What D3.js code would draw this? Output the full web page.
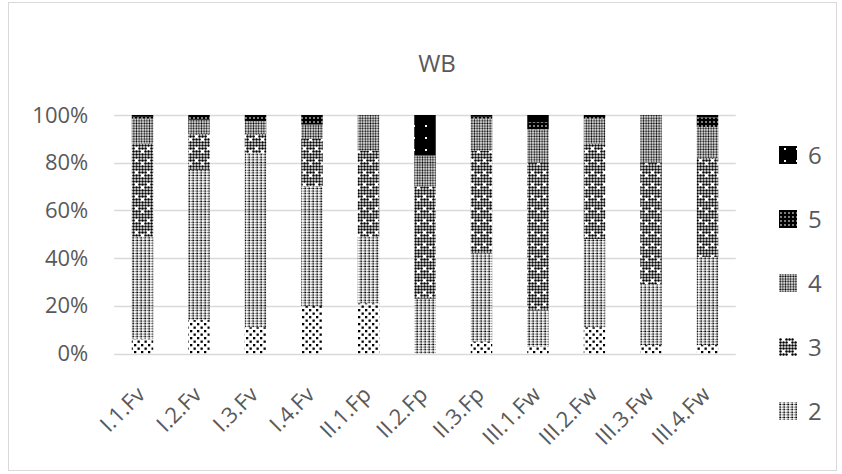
<!DOCTYPE html>
<html>
<head>
<meta charset="utf-8">
<script src="https://cdn.jsdelivr.net/npm/d3@7"></script>
<style>
  body { margin: 0; background: #fff; }
  text { font-family: "Open Sans", sans-serif; fill: #595959; }
</style>
</head>
<body>
<div id="viz"></div>
<script>
// values, percent of each bar
var categories = ["I.1.Fv", "I.2.Fv", "I.3.Fv", "I.4.Fv", "II.1.Fp", "II.2.Fp", "II.3.Fp",
                  "III.1.Fw", "III.2.Fw", "III.3.Fw", "III.4.Fw"];
var seriesNames = ["1", "2", "3", "4", "5", "6"];
var s1 = [6, 14, 11, 20, 21, 0, 5, 3, 11, 3.5, 3.5];
var s2 = [43, 63, 73, 50, 28, 23, 37, 15, 37, 25.5, 37];
var s3 = [39, 15, 8, 20, 36, 47, 43, 62, 40, 51, 41.5];
var s4 = [10.5, 6, 5.5, 6, 15, 13, 13.5, 14, 10.5, 20, 13];
var s5 = [1, 2, 2.5, 4, 0, 0, 1, 3, 1.5, 0, 4];
var s6 = [0.5, 0, 0, 0, 0, 17, 0.5, 3, 0, 0, 1];
var yTicks = [0, 0.2, 0.4, 0.6, 0.8, 1];
var title = "WB";

var W = 842, H = 474;
var plot = {left: 114.25, right: 735.75, top: 115, bottom: 353.5};

var svg = d3.select("#viz").append("svg")
    .attr("width", W)
    .attr("height", H);

// chart border
svg.append("rect")
    .attr("x", 8.5).attr("y", 2.5)
    .attr("width", 828).attr("height", 468)
    .attr("fill", "none")
    .attr("stroke", "#d9d9d9");

// fill patterns, one per series
var defs = svg.append("defs");
function pat(id, w, h) {
  return defs.append("pattern").attr("id", id)
      .attr("patternUnits", "userSpaceOnUse")
      .attr("width", w).attr("height", h);
}
var p1 = pat("p1", 7, 7);
p1.append("rect").attr("x", 1).attr("y", 1).attr("width", 2.3).attr("height", 2.3).attr("fill", "#000");
p1.append("rect").attr("x", 4.5).attr("y", 4.5).attr("width", 2.3).attr("height", 2.3).attr("fill", "#000");

// columns of small dots
var p2 = pat("p2", 4, 2.6);
p2.append("rect").attr("x", 0.3).attr("y", 0.5).attr("width", 1.7).attr("height", 1.5).attr("fill", "#000");
p2.append("rect").attr("x", 2.7).attr("y", 0.8).attr("width", 0.8).attr("height", 1).attr("fill", "#000");

// dot grid with white holes
var p3 = pat("p3", 12, 12);
for (var i = 0; i < 4; i++) {
  for (var j = 0; j < 4; j++) {
    if ((i == 1 && j == 1) || (i == 3 && j == 2)) continue;
    p3.append("circle").attr("cx", i * 3 + 1.5).attr("cy", j * 3 + 1.5)
        .attr("r", 1.25).attr("fill", "#000");
  }
}

var p4 = pat("p4", 2.6, 2.6);
p4.append("circle").attr("cx", 1.3).attr("cy", 1.3).attr("r", 1.0).attr("fill", "#000");

var p5 = pat("p5", 4, 4);
p5.append("rect").attr("width", 4).attr("height", 4).attr("fill", "#000");
p5.append("rect").attr("x", 1.3).attr("y", 1.3).attr("width", 1.4).attr("height", 1.4).attr("fill", "#fff");

var p6 = pat("p6", 12, 12);
p6.append("rect").attr("width", 12).attr("height", 12).attr("fill", "#000");
p6.append("rect").attr("x", 5).attr("y", 5).attr("width", 2).attr("height", 2).attr("fill", "#fff");

var fills = {"1": "url(#p1)", "2": "url(#p2)", "3": "url(#p3)", "4": "url(#p4)", "5": "url(#p5)", "6": "url(#p6)"};

// data table for the stack
var cols = [s1, s2, s3, s4, s5, s6];
var rows = categories.map(function(c, i) {
  var r = {cat: c};
  seriesNames.forEach(function(s, k) { r[s] = cols[k][i]; });
  return r;
});
var stacked = d3.stack().keys(seriesNames).offset(d3.stackOffsetExpand)(rows);

var x = d3.scaleBand()
    .domain(categories)
    .range([plot.left, plot.right])
    .paddingInner(0.62)
    .paddingOuter(0.31);

var y = d3.scaleLinear()
    .domain([0, 1])
    .range([plot.bottom, plot.top]);

// gridlines
svg.append("g").selectAll("line")
    .data(yTicks)
    .enter().append("line")
      .attr("x1", plot.left).attr("x2", plot.right)
      .attr("y1", function(d) { return Math.round(y(d)) + 0.5; })
      .attr("y2", function(d) { return Math.round(y(d)) + 0.5; })
      .attr("stroke", "#d9d9d9")
      .attr("stroke-width", 1.3);

// bars
svg.append("g").selectAll("g")
    .data(stacked)
    .enter().append("g")
      .attr("fill", function(d) { return fills[d.key]; })
    .selectAll("rect")
    .data(function(d) { return d; })
    .enter().append("rect")
      .attr("x", function(d) { return x(d.data.cat); })
      .attr("y", function(d) { return y(d[1]); })
      .attr("height", function(d) { return y(d[0]) - y(d[1]); })
      .attr("width", x.bandwidth());

// y axis labels
var yAxis = svg.append("g")
    .attr("transform", "translate(" + plot.left + ",0)")
    .call(d3.axisLeft(y).tickValues(yTicks).tickFormat(d3.format(".0%")).tickSize(0).tickPadding(26));
yAxis.select(".domain").remove();
yAxis.selectAll("text")
    .style("font-family", "'Open Sans', sans-serif")
    .style("font-size", "22px")
    .attr("fill", "#595959");

// x labels, rotated
svg.append("g").selectAll("text")
    .data(categories)
    .enter().append("text")
      .attr("transform", function(d) {
        return "translate(" + (x(d) + x.bandwidth() / 2 + 4) + ",396) rotate(-45)";
      })
      .attr("text-anchor", "end")
      .style("font-size", "22px")
      .text(function(d) { return d; });

// title
svg.append("text")
    .attr("x", 437).attr("y", 72)
    .attr("text-anchor", "middle")
    .style("font-size", "24px")
    .text(title);

// legend, top item is series 6; series 1 falls below the frame
var legendKeys = seriesNames.slice().reverse().filter(function(d, i) { return 155 + i * 64 < H - 10; });
var leg = svg.append("g").selectAll("g")
    .data(legendKeys)
    .enter().append("g")
      .attr("transform", function(d, i) { return "translate(779," + (155 + i * 64) + ")"; });
leg.append("rect")
    .attr("x", 0).attr("y", -9)
    .attr("width", 18).attr("height", 18)
    .attr("fill", function(d) { return fills[d]; });
leg.append("text")
    .attr("x", 29).attr("y", 8.5)
    .style("font-size", "24px")
    .text(function(d) { return d; });
</script>
</body>
</html>
